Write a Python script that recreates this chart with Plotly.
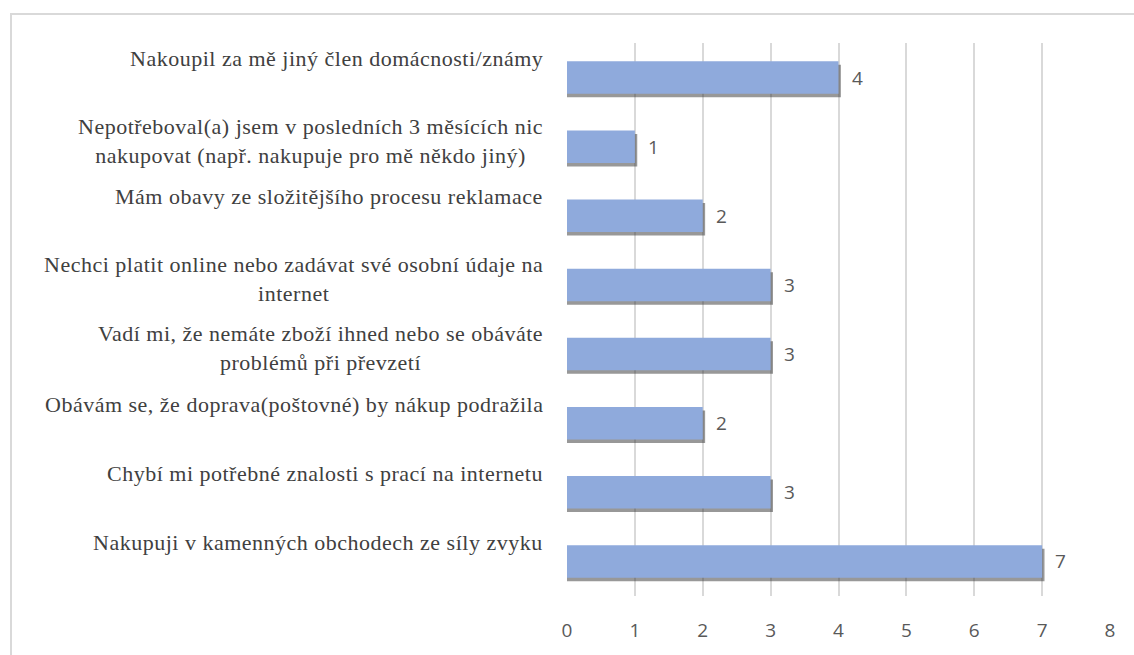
import plotly.graph_objects as go

categories = [
    "Nakoupil za mě jiný člen domácnosti/známy",
    "Nepotřeboval(a) jsem v posledních 3 měsících nic<br>nakupovat (např. nakupuje pro mě někdo jiný)",
    "Mám obavy ze složitějšího procesu reklamace",
    "Nechci platit online nebo zadávat své osobní údaje na<br>internet",
    "Vadí mi, že nemáte zboží ihned nebo se obáváte<br>problémů při převzetí",
    "Obávám se, že doprava(poštovné) by nákup podražila",
    "Chybí mi potřebné znalosti s prací na internetu",
    "Nakupuji v kamenných obchodech ze síly zvyku",
]
values = [4, 1, 2, 3, 3, 2, 3, 7]
x_ticks = [0, 1, 2, 3, 4, 5, 6, 7, 8]

W, H = 1134, 655
ML, MR, MT, MB = 567, 24, 43, 57
pw = W - ML - MR
ph = H - MT - MB

SERIF = "Liberation Serif"
SANS = "Open Sans"

fig = go.Figure()
# shadow
fig.add_trace(go.Bar(
    y=categories, x=[v + 0.035 for v in values], orientation="h",
    marker=dict(color="rgba(50,50,50,0.5)", line=dict(width=0)),
    width=0.47, offset=-0.235 + 0.05, hoverinfo="skip", showlegend=False,
))
fig.add_trace(go.Bar(
    y=categories, x=values, orientation="h",
    marker=dict(color="#8FAADC", line=dict(width=0)),
    width=0.47, offset=-0.235, showlegend=False,
))

annotations = []
for c, v in zip(categories, values):
    nlines = c.count("<br>") + 1
    lines = c.split("<br>")
    txt = "<br>".join('<span style="letter-spacing:0.5px">' + ln + "</span>" for ln in lines)
    annotations.append(dict(
        x=0, xref="paper", y=c, yref="y", text=txt, showarrow=False,
        xanchor="right", yanchor="middle", xshift=-22,
        yshift=19 if nlines == 1 else 6,
        align="center",
        font=dict(family=SERIF, size=22, color="#404040"),
    ))
    annotations.append(dict(
        x=v, xref="x", y=c, yref="y", text=str(v), showarrow=False,
        xanchor="left", xshift=11, yshift=0,
        font=dict(family=SANS, size=19, color="#595959"),
    ))

shapes = [dict(
    type="rect", xref="paper", yref="paper",
    x0=(11 - ML) / pw, x1=(W + 10 - ML) / pw,
    y0=-(H + 10 - MT - ph) / ph, y1=(H - MB - 14) / ph,
    line=dict(color="#D9D9D9", width=2), fillcolor="rgba(0,0,0,0)", layer="below",
)]

fig.update_layout(
    width=W, height=H,
    margin=dict(l=ML, r=MR, t=MT, b=MB),
    paper_bgcolor="white", plot_bgcolor="white",
    barmode="overlay", bargap=0.5,
    annotations=annotations, shapes=shapes,
    xaxis=dict(
        range=[0, 8], tickvals=x_ticks, ticktext=[str(t) for t in x_ticks],
        showgrid=True, gridcolor="#D9D9D9", gridwidth=1.5,
        zeroline=False, showline=False, ticks="",
        ticklabelstandoff=21,
        tickfont=dict(family=SANS, size=19, color="#595959"),
        fixedrange=True,
    ),
    yaxis=dict(
        autorange="reversed", showticklabels=False, showgrid=False,
        zeroline=False, showline=False, ticks="",
    ),
)

fig.write_html("out.html")
